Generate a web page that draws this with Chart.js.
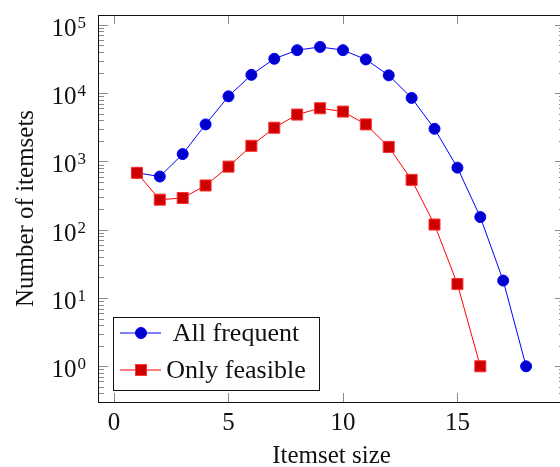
<!DOCTYPE html>
<html lang="en">
<head>
<meta charset="UTF-8">
<title>Number of itemsets</title>
<script src="https://cdn.jsdelivr.net/npm/chart.js"></script>
<style>
  body { margin: 0; padding: 0; background: #fff; overflow: hidden; }
  /* a bit wider than the window: the right edge of the frame is cut off in the original */
  #wrap { position: relative; width: 580px; height: 467px; }
</style>
</head>
<body>
<div id="wrap"><canvas id="chart"></canvas></div>
<script>
// data
const itemsetSizes = [1, 2, 3, 4, 5, 6, 7, 8, 9, 10, 11, 12, 13, 14, 15, 16, 17, 18];
const allFrequent  = [680, 600, 1280, 3480, 8960, 18500, 31800, 42500, 47400, 42500, 31100, 18200, 8500, 3000, 810, 153, 18, 1];
const onlyFeasible = [680, 275, 291, 444, 838, 1690, 3110, 4850, 6000, 5360, 3480, 1630, 536, 119, 16, 1];
const seriesNames  = ['All frequent', 'Only feasible'];
const xTicks = [0, 5, 10, 15];
const yTicks = [1, 10, 100, 1000, 10000, 100000];

const SERIF = "'Liberation Serif', 'DejaVu Serif', serif";

// pgfplots style: limits enlarged by 10% of the data range
const xLo = Math.min(...itemsetSizes), xHi = Math.max(...itemsetSizes);
const xPad = 0.1 * (xHi - xLo);
const lLo = 0, lHi = Math.log10(Math.max(...allFrequent, ...onlyFeasible));
const lPad = 0.1 * (lHi - lLo);

const toPoints = vals => vals.map((v, i) => ({ x: itemsetSizes[i], y: v }));

// frame, inward ticks and 10^k labels
const framePlugin = {
  id: 'frame',
  afterDatasetsDraw(chart) {
    const { ctx, chartArea: a, scales: { x, y } } = chart;
    ctx.save();
    ctx.strokeStyle = '#8a8a8a';
    ctx.lineWidth = 1;
    ctx.beginPath();
    xTicks.forEach(v => {
      const px = Math.round(x.getPixelForValue(v)) + 0.5;
      ctx.moveTo(px, a.bottom); ctx.lineTo(px, a.bottom - 9);
      ctx.moveTo(px, a.top); ctx.lineTo(px, a.top + 9);
    });
    for (let k = -1; k <= 5; k++) {
      for (let m = 1; m <= 9; m++) {
        const v = m * Math.pow(10, k);
        if (v < y.min || v > y.max) continue;
        const py = Math.round(y.getPixelForValue(v)) + 0.5;
        const len = m === 1 ? 10 : 6;
        ctx.moveTo(a.left, py); ctx.lineTo(a.left + len, py);
        ctx.moveTo(a.right, py); ctx.lineTo(a.right - len, py);
      }
    }
    ctx.stroke();

    ctx.strokeStyle = '#111';
    ctx.strokeRect(Math.round(a.left) + 0.5, Math.round(a.top) + 0.5,
                   Math.round(a.right - a.left), Math.round(a.bottom - a.top));

    // y labels with superscript exponent
    ctx.fillStyle = '#111';
    ctx.textBaseline = 'alphabetic';
    const xEnd = a.left - 12;
    yTicks.forEach(v => {
      const py = y.getPixelForValue(v);
      const exp = String(Math.round(Math.log10(v)));
      ctx.font = '17px ' + SERIF;
      const we = ctx.measureText(exp).width;
      ctx.textAlign = 'left';
      ctx.fillText(exp, xEnd - we, py + 3);
      ctx.font = '25px ' + SERIF;
      ctx.textAlign = 'right';
      ctx.fillText('10', xEnd - we - 1, py + 11);
    });
    ctx.restore();
  }
};

// legend box inside the plot, lower left
const legendPlugin = {
  id: 'boxLegend',
  afterDraw(chart) {
    const { ctx, chartArea: a } = chart;
    const bx = a.left + 15, bw = 206, bh = 73;
    const by = a.bottom - 12 - bh;
    ctx.save();
    ctx.fillStyle = '#fff';
    ctx.fillRect(bx, by, bw, bh);
    ctx.strokeStyle = '#111';
    ctx.lineWidth = 1;
    ctx.strokeRect(Math.round(bx) + 0.5, Math.round(by) + 0.5, bw, bh);
    ctx.font = '26px ' + SERIF;
    ctx.textAlign = 'center';
    ctx.textBaseline = 'middle';
    chart.data.datasets.forEach((ds, i) => {
      const ry = by + 16 + i * 37;
      ctx.strokeStyle = ds.borderColor;
      ctx.beginPath();
      ctx.moveTo(bx + 7, ry); ctx.lineTo(bx + 48, ry);
      ctx.stroke();
      ctx.fillStyle = ds.pointBackgroundColor;
      ctx.strokeStyle = ds.pointBorderColor;
      if (ds.pointStyle === 'rect') {
        ctx.fillRect(bx + 22.5, ry - 5.5, 11, 11);
        ctx.strokeRect(bx + 22.5, ry - 5.5, 11, 11);
      } else {
        ctx.beginPath();
        ctx.arc(bx + 28, ry, 5.5, 0, Math.PI * 2);
        ctx.fill(); ctx.stroke();
      }
      ctx.fillStyle = '#111';
      ctx.fillText(ds.label, bx + 123, ry + 1);
    });
    ctx.restore();
  }
};

new Chart(document.getElementById('chart'), {
  type: 'line',
  data: {
    datasets: [
      {
        label: seriesNames[0],
        data: toPoints(allFrequent),
        borderColor: '#0000ff',
        borderWidth: 1,
        pointStyle: 'circle',
        pointRadius: 5.5,
        pointBackgroundColor: '#0000cc',
        pointBorderColor: '#0000ff',
        pointBorderWidth: 1,
        order: 1
      },
      {
        label: seriesNames[1],
        data: toPoints(onlyFeasible),
        borderColor: '#ff0000',
        borderWidth: 1,
        pointStyle: 'rect',
        pointRadius: 7.8,
        pointBackgroundColor: '#cc0000',
        pointBorderColor: '#ff3030',
        pointBorderWidth: 1,
        order: 0
      }
    ]
  },
  options: {
    responsive: true,
    maintainAspectRatio: false,
    animation: false,
    layout: { padding: { top: 15, right: 15, left: 0, bottom: 0 } },
    plugins: {
      legend: { display: false },
      tooltip: { enabled: false }
    },
    scales: {
      x: {
        type: 'linear',
        min: xLo - xPad,
        max: xHi + xPad,
        grid: { display: false, drawTicks: false },
        border: { display: false },
        afterBuildTicks: s => { s.ticks = xTicks.map(v => ({ value: v })); },
        afterFit: s => { s.height = 65; },
        ticks: {
          color: '#111',
          font: { family: SERIF, size: 25 },
          padding: 6,
          maxRotation: 0
        },
        title: {
          display: true,
          text: 'Itemset size',
          color: '#111',
          font: { family: SERIF, size: 25, lineHeight: 1 },
          padding: { top: 0, bottom: -2 }
        }
      },
      y: {
        type: 'logarithmic',
        min: Math.pow(10, lLo - lPad),
        max: Math.pow(10, lHi + lPad),
        grid: { display: false, drawTicks: false },
        border: { display: false },
        afterBuildTicks: s => { s.ticks = yTicks.map(v => ({ value: v })); },
        afterFit: s => { s.width = 98; },
        ticks: { display: false },
        title: {
          display: true,
          text: 'Number of itemsets',
          color: '#111',
          font: { family: SERIF, size: 25, lineHeight: 1 },
          padding: { top: 14, bottom: 0 }
        }
      }
    }
  },
  plugins: [framePlugin, legendPlugin]
});
</script>
</body>
</html>
